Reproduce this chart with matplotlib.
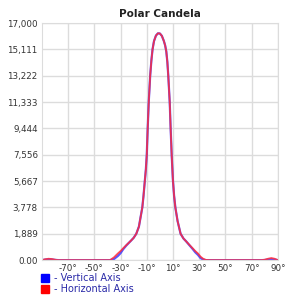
import matplotlib
matplotlib.use("Agg")
import matplotlib.pyplot as plt
from matplotlib.lines import Line2D

# angles in degrees, candela values
angles = [-90, -87.5, -85, -82.5, -80, -77.5, -60, -40, -38, -35, -32, -30, -28,
          -25.6, -22, -20, -18, -16, -14.5, -13.4, -12.5, -11.5, -10.7, -10.0,
          -9.3, -8.5, -7.4, -6.5, -5.6, -4.5, -3, -1.5, 0, 1.5, 3, 4, 4.9, 5.7, 6.4,
          7.5, 8.2, 9, 9.9, 10.8, 11.8, 13.5, 15.8, 18, 20, 22.7, 25, 27, 29,
          31, 33, 35, 38, 60, 77.5, 80, 82.5, 85, 87.5, 90]

horizontal = [0, 60, 100, 80, 30, 0, 0, 0, 0, 200, 480, 650, 850,
              1075, 1400, 1600, 1889, 2400, 3200, 3778, 4600, 5667, 6500, 7556,
              9444, 11333, 13222, 14300, 15111, 15700, 16100, 16260, 16250, 16080, 15720, 15400, 14950, 14200, 13222,
              11333, 9444, 7556, 5800, 4650, 3778, 2800, 1889, 1550, 1350, 1075, 850, 650, 480,
              250, 100, 20, 0, 0, 0, 30, 100, 150, 100, 0]

vertical = [0, 40, 60, 50, 20, 0, 0, 0, 0, 80, 300, 500, 780,
            1050, 1400, 1600, 1889, 2400, 3200, 3778, 4600, 5667, 6500, 7556,
            9444, 11333, 13222, 14300, 15111, 15700, 16100, 16260, 16250, 16080, 15720, 15400, 14950, 14200, 13222,
            11333, 9444, 7556, 5800, 4650, 3778, 2800, 1889, 1550, 1350, 1050, 800, 560, 380,
            150, 40, 0, 0, 0, 0, 10, 40, 60, 40, 0]

y_ticks = [0, 1889, 3778, 5667, 7556, 9444, 11333, 13222, 15111, 17000]
y_labels = ["0.00", "1,889", "3,778", "5,667", "7,556", "9,444",
            "11,333", "13,222", "15,111", "17,000"]
x_ticks = [-70, -50, -30, -10, 10, 30, 50, 70, 90]
x_labels = ["-70°", "-50°", "-30°", "-10°", "10°", "30°", "50°", "70°", "90°"]

fig = plt.figure(figsize=(2.85, 2.99), dpi=100)
ax = fig.add_axes([0.147, 0.13, 0.828, 0.793])

ax.plot(angles, vertical, color="#3a3aff", lw=1.6, alpha=0.85)
ax.plot(angles, horizontal, color="#ff2a3a", lw=1.3, alpha=0.85)

ax.set_xlim(-90, 90)
ax.set_ylim(0, 17000)
ax.set_xticks(x_ticks)
ax.set_xticklabels(x_labels)
ax.set_yticks(y_ticks)
ax.set_yticklabels(y_labels)
ax.tick_params(length=0, labelsize=6.3, colors="#333333", pad=3)
ax.grid(True, color="#dcdcdc", lw=1)
ax.set_axisbelow(True)
for s in ax.spines.values():
    s.set_color("#dcdcdc")

ax.set_title("Polar Candela", fontsize=7.5, fontweight="bold", color="#222222", pad=4)

handles = [Line2D([], [], marker="s", ls="", color="#0000ff", markersize=6.3),
           Line2D([], [], marker="s", ls="", color="#ff0000", markersize=6.3)]
fig.legend(handles, ["- Vertical Axis", "- Horizontal Axis"],
           loc="upper left", bbox_to_anchor=(0.145, 0.087), frameon=False,
           fontsize=7, labelcolor="#2a2aa8", handlelength=0.8,
           handletextpad=0.5, borderpad=0, borderaxespad=0, labelspacing=0.15)

fig.savefig("out.png", dpi=100)
